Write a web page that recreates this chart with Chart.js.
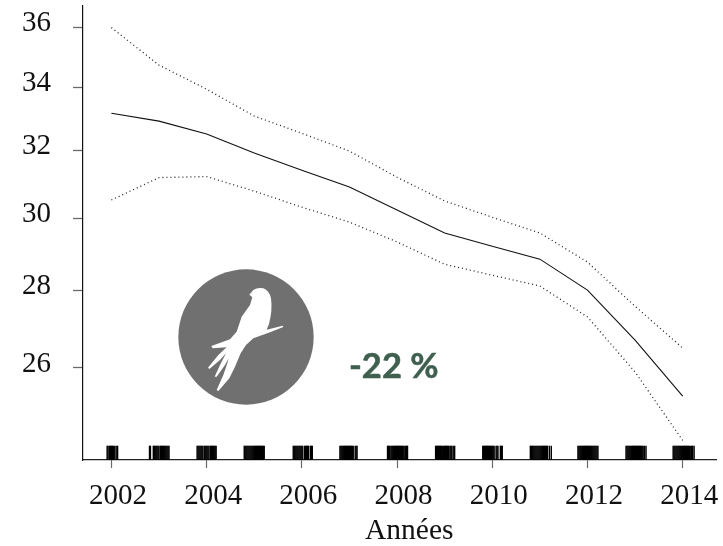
<!DOCTYPE html>
<html>
<head>
<meta charset="utf-8">
<title>Années</title>
<script src="https://cdn.jsdelivr.net/npm/chart.js@4/dist/chart.umd.min.js"></script>
<style>
html, body { margin: 0; padding: 0; background: #fff; }
#wrap { position: relative; width: 723px; height: 546px; overflow: hidden; }
#logo { position: absolute; left: 170px; top: 260px; }
#pct { position: absolute; left: 349px; top: 344px; font: bold 34.5px Lato, sans-serif; color: #3f5f4f; -webkit-text-stroke: 0.5px #3f5f4f; white-space: nowrap; }
#xtitle { position: absolute; left: 365px; top: 513px; font: 29.5px 'Liberation Serif', serif; color: #111; white-space: nowrap; }
</style>
</head>
<body>
<div id="wrap">
  <canvas id="chart" width="723" height="546"></canvas>
  <svg id="logo" width="150" height="150" viewBox="0 0 450 450">
    <circle cx="228" cy="231" r="203" fill="#707070"/>
    <path fill="#fff" d="M238,104 L250,90 Q262,82 280,85 Q298,92 303,115 Q308,150 297,192 L290,209 L338,197 L340,201 L300,217 L250,235 L228,255 L212,280 L195,320 L178,355 L145,393 L140,390 L160,345 L172,310 L176,295 L165,315 L140,350 L134,350 L150,315 L168,280 L150,300 L118,327 L114,323 L145,285 L170,262 L128,265 L124,258 L180,238 L200,215 L215,170 L240,135 L247,112 Z"/>
  </svg>
  <div id="pct">-22 %</div>
  <div id="xtitle">Années</div>
</div>
<script>
const years = [2002, 2003, 2004, 2005, 2006, 2007, 2008, 2009, 2010, 2011, 2012, 2013, 2014];
const index = [33.17, 32.92, 32.52, 31.93, 31.41, 30.91, 30.24, 29.58, 29.21, 28.85, 28.01, 26.70, 25.31];
const upper = [36.00, 34.73, 33.94, 33.08, 32.54, 31.99, 31.20, 30.50, 30.03, 29.58, 28.77, 27.58, 26.50];
const lower = [30.53, 31.19, 31.22, 30.79, 30.32, 29.89, 29.33, 28.71, 28.41, 28.12, 27.30, 25.90, 24.26];

const xTicks = [2002, 2004, 2006, 2008, 2010, 2012, 2014];
const yTicks = [26, 28, 30, 32, 34, 36];

// survey dates, one row per season
const rugDates = [
    2001.91, 2001.93, 2001.96, 2001.98, 2002.00, 2002.02, 2002.04, 2002.07, 2002.10, 2002.13,
    2002.80, 2002.82, 2002.88, 2002.90, 2002.92, 2002.94, 2002.96, 2002.98, 2003.00, 2003.03, 2003.05, 2003.07, 2003.09, 2003.11, 2003.13, 2003.15, 2003.17, 2003.19, 2003.21,
    2003.80, 2003.82, 2003.84, 2003.86, 2003.88, 2003.90, 2003.92, 2003.95, 2003.97, 2003.99, 2004.01, 2004.03, 2004.05, 2004.08, 2004.10, 2004.12, 2004.14, 2004.16, 2004.18, 2004.20,
    2004.79, 2004.81, 2004.83, 2004.85, 2004.87, 2004.89, 2004.91, 2004.93, 2004.95, 2004.97, 2004.99, 2005.01, 2005.03, 2005.05, 2005.07, 2005.09, 2005.11, 2005.13, 2005.15, 2005.17, 2005.19, 2005.21,
    2005.82, 2005.84, 2005.86, 2005.88, 2005.90, 2005.92, 2005.94, 2005.96, 2005.98, 2006.00, 2006.02, 2006.06, 2006.08, 2006.10, 2006.12, 2006.14, 2006.18, 2006.20, 2006.22,
    2006.80, 2006.82, 2006.84, 2006.86, 2006.88, 2006.90, 2006.92, 2006.94, 2006.96, 2006.98, 2007.00, 2007.02, 2007.04, 2007.06, 2007.08, 2007.12, 2007.14, 2007.16,
    2007.80, 2007.82, 2007.84, 2007.87, 2007.89, 2007.91, 2007.93, 2007.95, 2007.97, 2007.99, 2008.01, 2008.03, 2008.05, 2008.07, 2008.09, 2008.11, 2008.13, 2008.15, 2008.18, 2008.20, 2008.22,
    2008.81, 2008.83, 2008.85, 2008.87, 2008.89, 2008.91, 2008.93, 2008.95, 2008.98, 2009.00, 2009.02, 2009.04, 2009.06, 2009.08, 2009.11, 2009.13, 2009.15, 2009.18, 2009.21,
    2009.80, 2009.82, 2009.84, 2009.86, 2009.88, 2009.90, 2009.92, 2009.94, 2009.96, 2009.98, 2010.00, 2010.02, 2010.04, 2010.08, 2010.10, 2010.12, 2010.17, 2010.19, 2010.21,
    2010.80, 2010.82, 2010.84, 2010.86, 2010.88, 2010.90, 2010.92, 2010.94, 2010.96, 2010.98, 2011.00, 2011.02, 2011.04, 2011.06, 2011.08, 2011.10, 2011.12, 2011.14, 2011.16, 2011.20, 2011.24,
    2011.80, 2011.82, 2011.84, 2011.86, 2011.88, 2011.90, 2011.92, 2011.94, 2011.96, 2011.98, 2012.00, 2012.02, 2012.04, 2012.06, 2012.08, 2012.10, 2012.12, 2012.14, 2012.16, 2012.18, 2012.20, 2012.22,
    2012.81, 2012.83, 2012.85, 2012.87, 2012.89, 2012.91, 2012.93, 2012.95, 2012.97, 2012.99, 2013.01, 2013.03, 2013.05, 2013.07, 2013.09, 2013.11, 2013.13, 2013.15, 2013.17, 2013.20, 2013.23,
    2013.80, 2013.82, 2013.84, 2013.86, 2013.88, 2013.90, 2013.92, 2013.94, 2013.96, 2013.98, 2014.00, 2014.02, 2014.04, 2014.06, 2014.08, 2014.10, 2014.12, 2014.14, 2014.17, 2014.19, 2014.21, 2014.24,
];
const rugBottom = 23.81;
const rugTop = 24.13;

const TICK_GREY = "#6a6a6a";
const SERIF = "'Liberation Serif', serif";

const toPoints = values => values.map((v, i) => ({ x: years[i], y: v }));

new Chart(document.getElementById("chart"), {
    type: "line",
    data: {
        datasets: [
            { data: toPoints(index), borderColor: "#111", borderWidth: 1.1, pointRadius: 0, tension: 0 },
            { data: toPoints(upper), borderColor: "#222", borderWidth: 1.3, borderDash: [1, 3], pointRadius: 0, tension: 0 },
            { data: toPoints(lower), borderColor: "#222", borderWidth: 1.3, borderDash: [1, 3], pointRadius: 0, tension: 0 },
            {
                type: "bar",
                data: rugDates.map(d => ({ x: d, y: [rugBottom, rugTop] })),
                backgroundColor: "#000",
                barThickness: 0.75,
                grouped: false,
            },
        ],
    },
    options: {
        responsive: false,
        animation: false,
        layout: { padding: { top: 6, right: 7, left: 0, bottom: 0 } },
        plugins: { legend: { display: false }, tooltip: { enabled: false } },
        scales: {
            x: {
                type: "linear",
                min: 2001.403,
                max: 2014.70,
                offset: false,
                afterBuildTicks: axis => { axis.ticks = xTicks.map(v => ({ value: v })); },
                afterFit: axis => { axis.height = 86; axis.paddingLeft = 0; axis.paddingRight = 0; },
                grid: { drawOnChartArea: false, offset: false, tickLength: 8, tickColor: TICK_GREY, tickWidth: 1.2 },
                border: { color: "#222", width: 1.2 },
                ticks: {
                    autoSkip: false,
                    maxRotation: 0,
                    padding: 11,
                    labelOffset: 6.5,
                    color: "#111",
                    font: { family: SERIF, size: 29 },
                    callback: v => String(v),
                },
            },
            y: {
                type: "logarithmic",
                min: 23.81,
                max: 36.75,
                afterBuildTicks: axis => { axis.ticks = yTicks.map(v => ({ value: v })); },
                afterFit: axis => { axis.width = 83; axis.paddingTop = 0; axis.paddingBottom = 0; },
                grid: { drawOnChartArea: false, tickLength: 10, tickColor: TICK_GREY, tickWidth: 1.3 },
                border: { color: "#111", width: 1.2 },
                ticks: {
                    autoSkip: false,
                    padding: 22,
                    labelOffset: -4,
                    color: "#111",
                    font: { family: SERIF, size: 29 },
                    callback: v => String(v),
                },
            },
        },
    },
});
</script>
</body>
</html>
